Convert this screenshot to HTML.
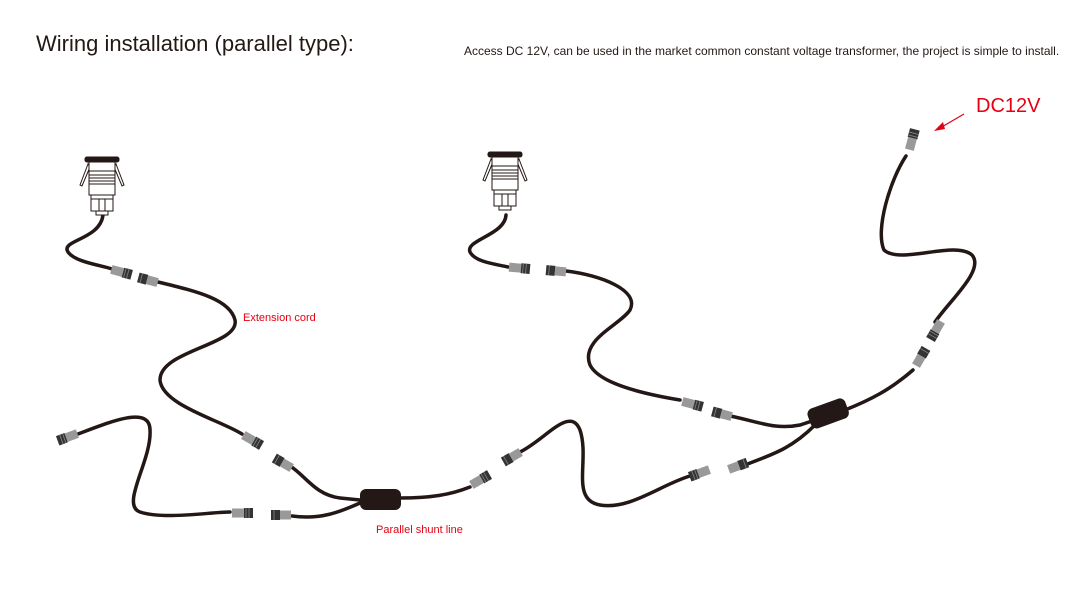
<!DOCTYPE html>
<html><head><style>
body{margin:0;background:#fff;width:1077px;height:598px;overflow:hidden;position:relative;font-family:"Liberation Sans",sans-serif}
.t{position:absolute;white-space:nowrap}
</style></head><body>
<div class="t" style="left:36px;top:31px;font-size:22px;color:#231815">Wiring installation (parallel type):</div>
<div class="t" style="left:464px;top:44px;font-size:12px;color:#231815;letter-spacing:0px">Access DC 12V, can be used in the market common constant voltage transformer, the project is simple to install.</div>
<div class="t" style="left:243px;top:312px;font-size:11px;color:#e60012">Extension cord</div>
<div class="t" style="left:376px;top:524px;font-size:11px;color:#e60012">Parallel shunt line</div>
<div class="t" style="left:976px;top:95px;font-size:20px;color:#e60012">DC12V</div>
<svg width="1077" height="598" style="position:absolute;left:0;top:0">
<defs>
<g id="cm"><rect x="-10" y="-4.5" width="12" height="9" fill="#999"/><rect x="2" y="-5" width="9" height="10" fill="#333"/><line x1="4" y1="-5" x2="4" y2="5" stroke="#888" stroke-width="0.8"/><line x1="7" y1="-5" x2="7" y2="5" stroke="#888" stroke-width="0.8"/></g>
<g id="cf"><rect x="-10" y="-5" width="9" height="10" fill="#333"/><rect x="-1" y="-4.5" width="11" height="9" fill="#999"/><line x1="-7" y1="-5" x2="-7" y2="5" stroke="#888" stroke-width="0.8"/></g>
<g id="lamp" stroke="#231815" stroke-width="1" fill="#fff">
<rect x="-17" y="0" width="34" height="5" rx="2" fill="#231815"/>
<path d="M-14 7 L-22 28 L-20 29 L-12 10 Z M14 7 L22 28 L20 29 L12 10 Z"/>
<rect x="-13" y="5" width="26" height="9"/>
<rect x="-13" y="14" width="26" height="4"/>
<rect x="-13" y="18" width="26" height="3"/>
<rect x="-13" y="21" width="26" height="3"/>
<rect x="-13" y="24" width="26" height="3"/>
<rect x="-13" y="27" width="26" height="11"/>
<rect x="-11" y="38" width="22" height="4"/>
<rect x="-11" y="42" width="22" height="12"/>
<line x1="-3" y1="42" x2="-3" y2="54"/><line x1="3" y1="42" x2="3" y2="54"/>
<rect x="-6" y="54" width="12" height="4"/>
</g>
</defs>
<g fill="none" stroke="#231815" stroke-width="3.5" stroke-linecap="round">
<path d="M103 215 C100 240 60 240 68 252 C75 262 100 265 112 269"/>
<path d="M158 282 C200 292 230 300 235 320 C240 345 160 350 160 380 C162 405 220 420 242 434"/>
<path d="M290 466 C305 475 315 495 340 498 L360 500"/>
<path d="M78 434 C110 422 150 405 150 430 C152 460 120 505 140 512 C165 520 210 512 230 512"/>
<path d="M292 516 C320 520 340 512 360 503"/>
<path d="M400 498 C430 498 450 495 470 487"/>
<path d="M520 452 C545 440 570 405 580 430 C590 460 570 500 600 505 C630 510 660 485 690 476"/>
<path d="M745 465 C770 455 790 450 815 425"/>
<path d="M506 215 C505 235 465 240 470 252 C475 262 495 264 508 267"/>
<path d="M566 271 C600 275 640 290 630 310 C620 325 580 340 590 365 C600 385 650 395 680 400"/>
<path d="M730 416 C760 422 775 430 800 425 L815 420"/>
<path d="M845 410 C870 400 890 390 913 370"/>
<path d="M935 322 C950 300 985 270 972 255 C955 240 900 265 884 250 C875 230 890 180 906 156"/>
</g>
<rect x="360" y="489" width="41" height="21" rx="6" fill="#231815"/>
<rect x="808" y="403" width="40" height="21" rx="6" fill="#231815" transform="rotate(-20 828 413)"/>
<use href="#lamp" transform="translate(102 157)"/>
<use href="#lamp" transform="translate(505 152)"/>
<use href="#cm" transform="translate(121 272) rotate(15)"/>
<use href="#cf" transform="translate(148 280) rotate(15)"/>
<use href="#cm" transform="translate(252 440) rotate(30)"/>
<use href="#cf" transform="translate(283 463) rotate(30)"/>
<use href="#cm" transform="translate(68 437) rotate(-20) scale(-1 1)"/>
<use href="#cm" transform="translate(242 513)"/>
<use href="#cf" transform="translate(281 515)"/>
<use href="#cm" transform="translate(480 480) rotate(-30)"/>
<use href="#cf" transform="translate(512 457) rotate(-30)"/>
<use href="#cm" transform="translate(519 268) rotate(5)"/>
<use href="#cf" transform="translate(556 271) rotate(5)"/>
<use href="#cm" transform="translate(692 404) rotate(15)"/>
<use href="#cf" transform="translate(722 414) rotate(15)"/>
<use href="#cm" transform="translate(700 473) rotate(-20) scale(-1 1)"/>
<use href="#cf" transform="translate(738 466) rotate(-20) scale(-1 1)"/>
<use href="#cf" transform="translate(921 357) rotate(-60) scale(-1 1)"/>
<use href="#cm" transform="translate(936 330) rotate(-60) scale(-1 1)"/>
<use href="#cm" transform="translate(912 140) rotate(-75)"/>
<line x1="964" y1="114" x2="940" y2="128" stroke="#e60012" stroke-width="1.2"/>
<path d="M934 131 L943 122 L945 129 Z" fill="#e60012"/>
</svg>
</body></html>
